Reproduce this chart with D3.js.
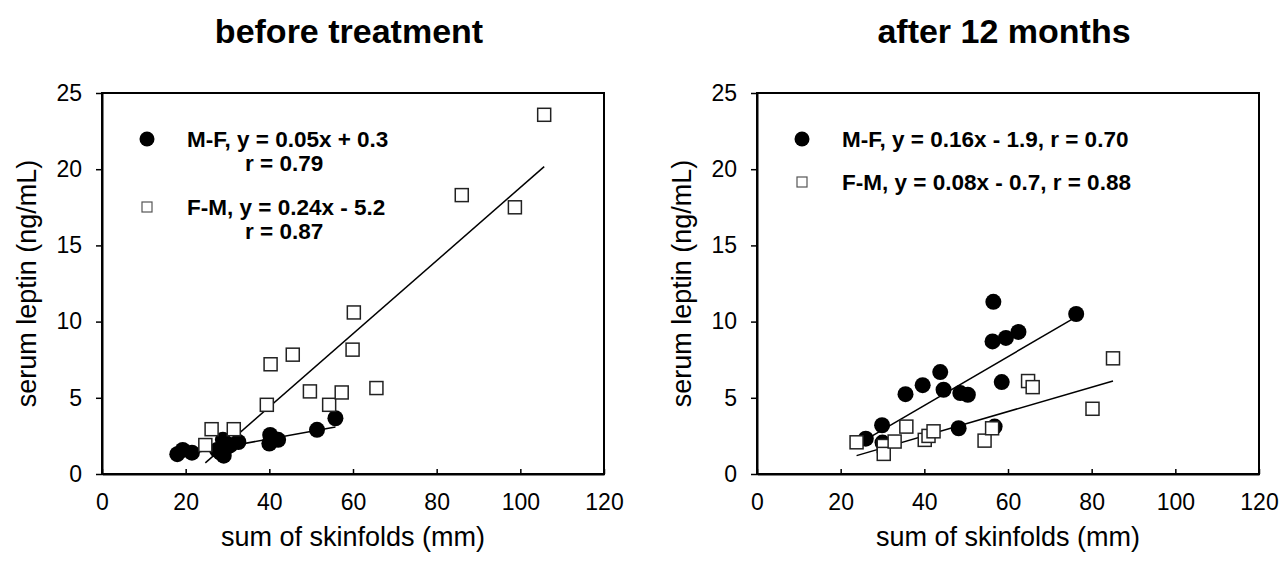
<!DOCTYPE html>
<html>
<head>
<meta charset="utf-8">
<script src="https://cdn.jsdelivr.net/npm/d3@7"></script>
<style>
  body { margin: 0; background: #fff; }
  svg { display: block; }
  text { font-family: "Liberation Sans", Arial, Helvetica, sans-serif; fill: #000; }
</style>
</head>
<body>
<svg id="chart" width="1283" height="566"></svg>
<script>
// --- data ---
var titles = ["before treatment", "after 12 months"];
var xTicks = [0, 20, 40, 60, 80, 100, 120];
var yTicks = [0, 5, 10, 15, 20, 25];

// before treatment
var beforeMF = [[18.0,1.3],[19.3,1.58],[21.5,1.4],[27.5,1.58],[28.3,1.4],[28.9,2.24],[29.1,1.2],
                [30.0,1.8],[30.7,1.9],[32.6,2.1],[40.0,2.0],[40.2,2.56],[42.1,2.24],[51.4,2.9],[55.8,3.66]];
var beforeFM = [[24.7,1.9],[26.2,2.94],[31.5,2.94],[39.4,4.54],[40.3,7.2],[45.6,7.83],[49.7,5.42],
                [54.3,4.54],[57.3,5.35],[59.9,8.16],[60.2,10.6],[65.6,5.64],[86.0,18.3],[98.7,17.5],[105.7,23.57]];

// after 12 months
var afterMF = [[26.0,2.32],[29.9,3.2],[30.0,2.06],[35.5,5.24],[39.6,5.83],[43.8,6.69],[44.6,5.53],
               [48.2,3.0],[48.6,5.31],[50.4,5.2],[56.3,8.7],[56.5,11.3],[56.8,3.11],[58.5,6.03],
               [59.5,8.93],[62.5,9.32],[76.3,10.5]];
var afterFM = [[23.8,2.08],[30.3,1.84],[30.3,1.32],[32.9,2.13],[35.7,3.11],[40.1,2.24],[41.0,2.5],
               [42.2,2.8],[54.4,2.19],[56.2,3.0],[64.8,6.1],[65.9,5.7],[80.2,4.28],[85.1,7.59]];

// regression lines: [slope, intercept]
var fitsBefore = [[0.05, 0.3], [0.24, -5.2]];
var fitsAfter = [[0.16, -1.9], [0.08, -0.7]];

var legendBefore = [["M-F, y = 0.05x + 0.3", "r = 0.79"], ["F-M, y = 0.24x - 5.2", "r = 0.87"]];
var legendAfter = [["M-F, y = 0.16x - 1.9, r = 0.70"], ["F-M, y = 0.08x - 0.7, r = 0.88"]];

var svg = d3.select("#chart");

function drawPanel(left, title, mf, fm, fits, legend) {
    var W = 502, top = 93, bottom = 474;
    var g = svg.append("g");

    var x = d3.scaleLinear().domain([0, 120]).range([left, left + W]);
    var y = d3.scaleLinear().domain([0, 25]).range([bottom, top]);

    // title
    g.append("text")
        .attr("x", left + W / 2 - 4)
        .attr("y", 43)
        .attr("text-anchor", "middle")
        .attr("font-size", 34)
        .attr("font-weight", "bold")
        .text(title);

    // frame
    g.append("rect")
        .attr("x", left).attr("y", top)
        .attr("width", W).attr("height", bottom - top)
        .attr("fill", "none")
        .attr("stroke", "#000")
        .attr("stroke-width", 2);

    // axes
    var ax = g.append("g")
        .attr("transform", "translate(0," + bottom + ")")
        .call(d3.axisBottom(x).tickValues(xTicks).tickSize(-5).tickPadding(20).tickSizeOuter(0));
    var ay = g.append("g")
        .attr("transform", "translate(" + left + ",0)")
        .call(d3.axisLeft(y).tickValues(yTicks).tickSize(6).tickPadding(14).tickSizeOuter(0));
    [ax, ay].forEach(function (a) {
        a.select(".domain").attr("stroke-width", 2);
        a.selectAll(".tick line").attr("stroke-width", 1.5);
        a.selectAll(".tick text")
            .attr("font-size", 23)
            .attr("font-family", "'Liberation Sans', Arial, sans-serif")
            .attr("fill", "#000");
    });

    // axis titles
    g.append("text")
        .attr("x", left + W / 2)
        .attr("y", 546)
        .attr("text-anchor", "middle")
        .attr("font-size", 27)
        .text("sum of skinfolds (mm)");
    g.append("text")
        .attr("transform", "translate(" + (left - 66) + "," + ((top + bottom) / 2) + ") rotate(-90)")
        .attr("text-anchor", "middle")
        .attr("font-size", 27)
        .text("serum leptin (ng/mL)");

    // regression lines
    [mf, fm].forEach(function (pts, i) {
        var xs = d3.extent(pts, function (d) { return d[0]; });
        var f = fits[i];
        g.append("line")
            .attr("x1", x(xs[0])).attr("y1", y(f[0] * xs[0] + f[1]))
            .attr("x2", x(xs[1])).attr("y2", y(f[0] * xs[1] + f[1]))
            .attr("stroke", "#000")
            .attr("stroke-width", 1.5);
    });

    // points
    g.selectAll("circle.mf")
        .data(mf)
        .enter()
        .append("circle")
        .attr("class", "mf")
        .attr("cx", function (d) { return x(d[0]); })
        .attr("cy", function (d) { return y(d[1]); })
        .attr("r", 8)
        .attr("fill", "#000");

    var s = 13;
    g.selectAll("rect.fm")
        .data(fm)
        .enter()
        .append("rect")
        .attr("class", "fm")
        .attr("x", function (d) { return x(d[0]) - s / 2; })
        .attr("y", function (d) { return y(d[1]) - s / 2; })
        .attr("width", s).attr("height", s)
        .attr("fill", "#fff")
        .attr("stroke", "#222")
        .attr("stroke-width", 1.5);

    // legend
    var lx = left + 45, tx = left + 85;
    var rows = legend[0].length > 1 ? [139, 207] : [139, 182];
    g.append("circle")
        .attr("cx", lx).attr("cy", rows[0]).attr("r", 7.5).attr("fill", "#000");
    g.append("rect")
        .attr("x", lx - 5).attr("y", rows[1] - 5).attr("width", 10).attr("height", 10)
        .attr("fill", "#fff").attr("stroke", "#555").attr("stroke-width", 1.2);
    legend.forEach(function (lines, i) {
        lines.forEach(function (t, j) {
            g.append("text")
                .attr("x", j === 0 ? tx : left + 143)
                .attr("y", rows[i] + 8 + j * 24)
                .attr("font-size", 22.5)
                .attr("font-weight", "bold")
                .text(t);
        });
    });
}

drawPanel(102, titles[0], beforeMF, beforeFM, fitsBefore, legendBefore);
drawPanel(757, titles[1], afterMF, afterFM, fitsAfter, legendAfter);
</script>
</body>
</html>
